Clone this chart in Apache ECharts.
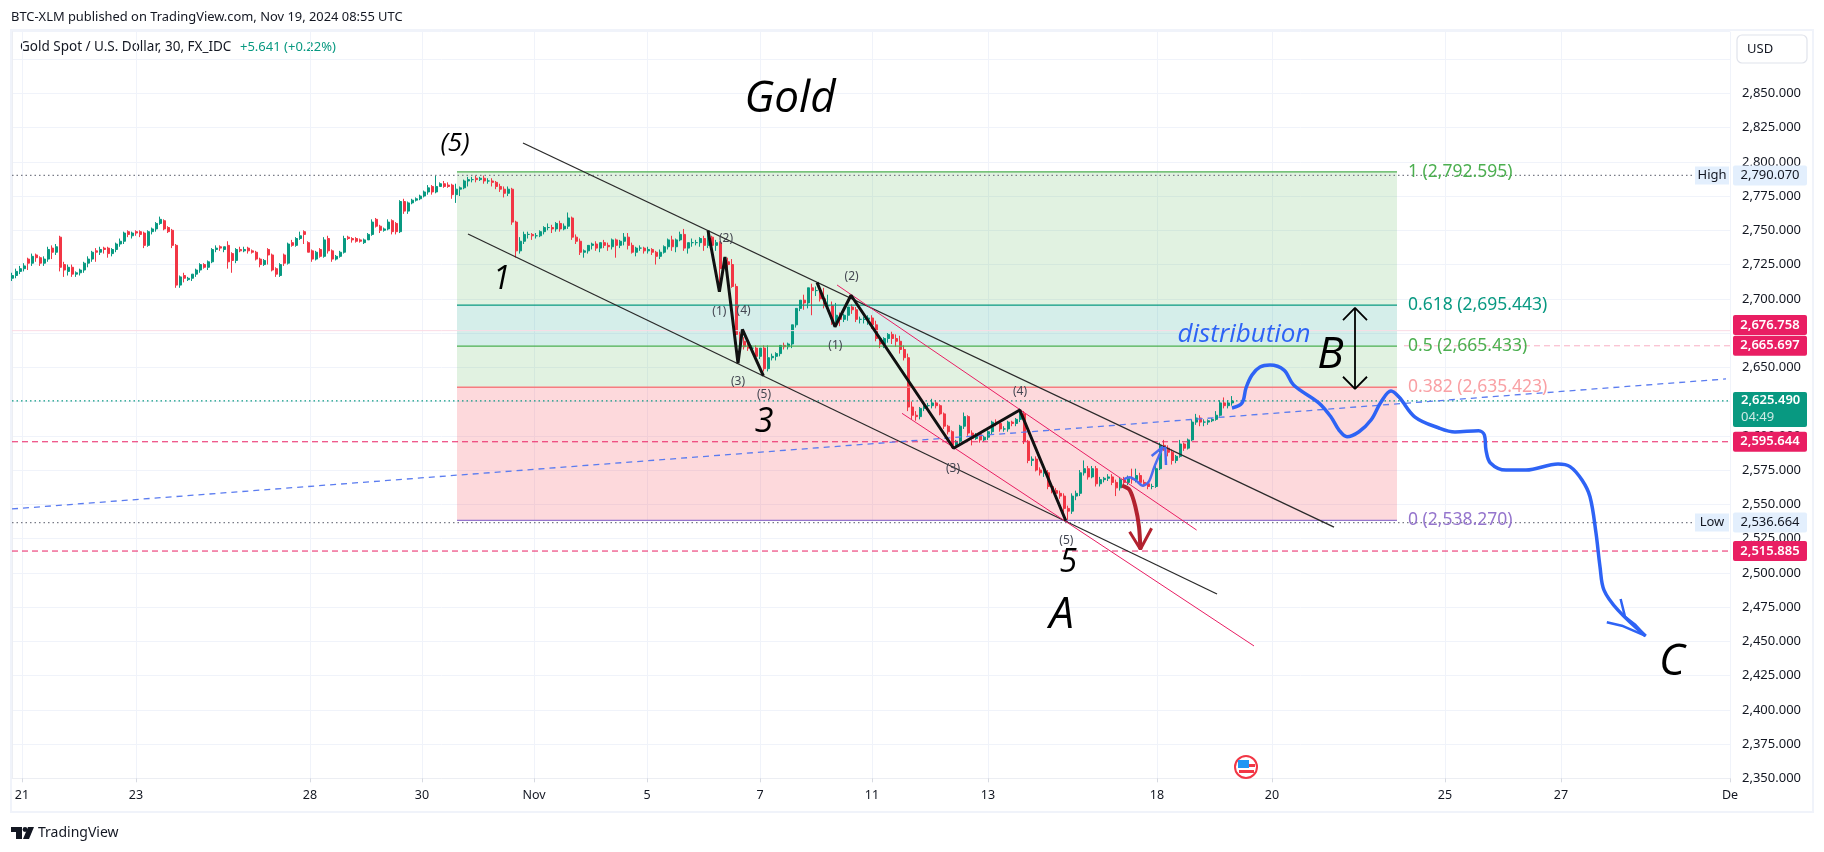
<!DOCTYPE html>
<html>
<head>
<meta charset="utf-8">
<style>
  html, body { margin: 0; background: #fff; }
  #chart { width: 1824px; height: 852px; }
</style>
<script src="https://cdn.jsdelivr.net/npm/echarts@6/dist/echarts.min.js"></script>
</head>
<body>
<div id="chart"></div>
<script>
const font = '"Noto Sans", sans-serif';

// x axis: slot number of the thinned bars, one slot holds about 3 bars of 30 min
const slotMax = 429.5;
const tickSlots = [2.5, 31, 74.5, 102.5, 130.5, 158.75, 187, 215, 244, 286.25, 315, 358.25, 387.25, 429.5];
const tickLabels = ['21', '23', '28', '30', 'Nov', '5', '7', '11', '13', '18', '20', '25', '27', 'De'];

// price candles, one entry per slot
const opens = [
  2715,2717,2720,2722,2729,2726,2732,2730,2726,2729, 2737,2734,2745,2725,2720,2723,2718,2719,2721,2726,
  2729,2735,2734,2737,2737,2733,2736,2740,2742,2749, 2746,2749,2749,2748,2739,2749,2751,2755,2757,2752,
  2750,2739,2710,2717,2714,2715,2718,2721,2725,2723, 2727,2736,2738,2736,2739,2733,2728,
  2736,2735,2737,2735,2734,2729,2725,2736,2732,2722, 2717,2732,2726,2741,2739,2744,2749,2741,2735,2729,
  2736,2731,2744,2735,2729,2731,2734,2745,2744,2744, 2743,2741,2743,2747,2758,2753,2750,2751,2757,2755,
  2749,2771,2764,2770,2772,2773,2775,2778,2782,2778, 2782,2784,2783,2783,2776,2780,2781,
  2786,2787,2788,2787,2788,2786,2786,2785,2782,2780, 2777,2780,2756,2735,2742,2747,2747,2746,2746,2749,
  2752,2752,2751,2755,2751,2753,2759,2745,2742,2734, 2735,2739,2740,2737,2741,2739,2738,2743,2739,2742,
  2745,2739,2734,2737,2737,2735,2736,2734,2731,2734, 2738,2743,2738,2743,2747,2737,2741,2741,2741,2744,2739,
  2745,2739,2741,2722,2727,2725,2709,2674,2669,2665, 2664,2664,2658,2664,2649,2657,2658,2660,2666,2665,
  2667,2681,2693,2699,2697,2708,2706,2706,2700,2695, 2695,2683,2688,2685,2688,2694,2692,2685,2685,2685,
  2686,2681,2671,2667,2671,2674,2671,2669,2663,2657, 2621,2615,
  2614,2620,2622,2622,2624,2622,2616,2607,2603,2593, 2596,2607,2614,2602,2598,2601,2597,2599,2603,2610,
  2609,2605,2605,2610,2609,2612,2616,2596,2582,2583, 2575,2573,2573,2563,2560,2558,2556,2547,2545,2556,
  2558,2573,2576,2570,2576,2565,2568,2569,2570,2566,
  2562,2568,2566,2569,2568,2571,2566,2565,2563,2563, 2576,2593,2591,2588,2582,2585,2594,2591,2597,2610,
  2613,2610,2610,2611,2612,2615,2624,2622,2624
];
const closes = [
  2717,2720,2722,2724,2726,2731,2730,2726,2729,2736, 2734,2738,2723,2721,2723,2718,2719,2721,2726,2729,
  2734,2734,2736,2736,2733,2736,2740,2742,2748,2747, 2748,2748,2747,2739,2749,2751,2755,2758,2751,2749,
  2739,2710,2716,2715,2715,2718,2721,2725,2723,2727, 2736,2737,2737,2738,2727,2728,2736,
  2735,2736,2735,2734,2729,2725,2728,2732,2721,2718, 2725,2726,2740,2739,2744,2746,2747,2734,2729,2734,
  2731,2743,2735,2729,2731,2734,2744,2744,2743,2742, 2742,2743,2747,2756,2753,2750,2751,2756,2749,2749,
  2771,2764,2770,2772,2773,2775,2778,2781,2778,2782, 2784,2782,2782,2776,2780,2781,2786,
  2787,2787,2787,2788,2786,2786,2785,2782,2780,2777, 2780,2756,2735,2742,2747,2747,2746,2746,2749,2752,
  2752,2751,2755,2751,2753,2759,2745,2742,2734,2735, 2739,2740,2737,2741,2739,2738,2743,2739,2742,2745,
  2739,2734,2737,2737,2735,2736,2734,2731,2734,2738, 2743,2738,2743,2747,2737,2741,2741,2741,2744,2739,2745,
  2739,2741,2722,2727,2725,2709,2674,2669,2665,2664, 2664,2658,2664,2649,2657,2658,2660,2666,2665,2667,
  2681,2693,2699,2697,2708,2706,2706,2700,2695,2695, 2683,2688,2685,2688,2694,2692,2685,2685,2685,2686,
  2681,2671,2667,2671,2674,2671,2669,2663,2657,2621, 2615,2614,
  2620,2622,2622,2624,2622,2616,2607,2603,2593,2596, 2607,2614,2602,2598,2601,2597,2599,2603,2610,2609,
  2605,2605,2610,2609,2612,2616,2596,2582,2583,2575, 2573,2573,2563,2560,2558,2556,2547,2545,2556,2558,
  2573,2576,2570,2576,2565,2568,2569,2570,2566,2562,
  2568,2566,2569,2568,2571,2566,2565,2563,2563,2576, 2593,2591,2588,2582,2585,2594,2591,2597,2610,2613,
  2610,2610,2611,2612,2615,2624,2622,2624,2625.49
];
const lows = [
  2713,2715,2718,2720,2721,2724,2727,2724,2724,2727, 2729,2732,2720,2716,2717,2716,2716,2717,2719,2723,
  2727,2727,2732,2733,2730,2731,2734,2738,2740,2745, 2744,2746,2745,2737,2738,2747,2749,2754,2750,2748,
  2737,2708,2708,2712,2713,2713,2716,2719,2722,2721, 2726,2734,2735,2734,2722,2719,2726,
  2734,2734,2733,2733,2728,2723,2724,2725,2720,2716, 2716,2724,2725,2738,2738,2743,2740,2734,2727,2728,
  2730,2730,2733,2727,2728,2730,2733,2743,2741,2741, 2741,2740,2743,2746,2752,2748,2749,2750,2747,2747,
  2748,2762,2762,2769,2771,2772,2774,2776,2776,2777, 2782,2781,2781,2773,2770,2775,2780,
  2782,2785,2785,2786,2784,2784,2782,2780,2778,2774, 2775,2754,2730,2733,2740,2744,2743,2744,2745,2747,
  2750,2748,2749,2749,2750,2751,2743,2740,2732,2730, 2733,2736,2735,2734,2737,2735,2736,2730,2737,2739,
  2736,2733,2731,2735,2733,2733,2732,2725,2729,2733, 2736,2735,2734,2742,2735,2733,2738,2739,2738,2735,2737,
  2736,2735,2705,2720,2722,2708,2672,2667,2663,2662, 2662,2656,2656,2647,2647,2655,2655,2658,2663,2663,
  2664,2679,2691,2692,2693,2688,2702,2698,2693,2691, 2681,2682,2680,2683,2684,2689,2683,2682,2682,2681,
  2678,2669,2664,2664,2668,2667,2665,2660,2655,2618, 2612,2611,
  2612,2618,2620,2620,2620,2615,2605,2601,2591,2591, 2594,2605,2600,2593,2597,2595,2596,2597,2601,2607,
  2603,2603,2603,2607,2607,2610,2594,2580,2578,2574, 2571,2570,2561,2558,2556,2554,2544,2537,2543,2553,
  2556,2571,2568,2569,2563,2563,2566,2567,2564,2556,
  2560,2564,2564,2565,2566,2564,2563,2561,2561,2562, 2575,2589,2585,2579,2580,2584,2589,2590,2596,2608,
  2607,2607,2608,2610,2611,2614,2620,2620,2622
];
const highs = [
  2719,2722,2724,2726,2730,2733,2733,2731,2731,2738, 2739,2740,2746,2727,2725,2725,2720,2722,2727,2731,
  2735,2737,2738,2738,2738,2737,2741,2744,2749,2750, 2749,2750,2750,2749,2750,2752,2756,2760,2758,2753,
  2751,2740,2717,2719,2716,2718,2722,2726,2726,2728, 2737,2739,2739,2738,2742,2734,2737,
  2738,2738,2738,2736,2735,2730,2729,2737,2733,2723, 2726,2733,2741,2743,2745,2749,2750,2742,2736,2735,
  2737,2745,2746,2736,2732,2735,2746,2746,2745,2745, 2744,2744,2748,2758,2759,2754,2752,2758,2758,2756,
  2772,2773,2771,2773,2774,2776,2779,2783,2783,2790, 2785,2786,2785,2784,2784,2782,2787,
  2789,2789,2790,2789,2790,2788,2788,2786,2784,2782, 2782,2781,2757,2745,2749,2749,2748,2748,2750,2753,
  2755,2754,2756,2757,2755,2763,2760,2747,2744,2736, 2737,2741,2742,2741,2743,2741,2744,2744,2743,2748,
  2748,2741,2738,2739,2738,2738,2737,2735,2736,2739, 2744,2746,2744,2749,2751,2741,2744,2743,2745,2746,2750,
  2746,2743,2742,2730,2730,2729,2711,2676,2672,2668, 2666,2666,2661,2666,2666,2660,2661,2665,2668,2668,
  2669,2683,2696,2703,2701,2711,2709,2708,2708,2703, 2698,2697,2690,2689,2690,2696,2694,2687,2687,2688,
  2688,2684,2673,2672,2675,2676,2674,2673,2666,2660, 2625,2618,
  2621,2624,2624,2627,2626,2623,2617,2608,2604,2597, 2608,2617,2615,2604,2602,2602,2600,2604,2611,2612,
  2610,2607,2611,2611,2613,2620,2618,2597,2585,2585, 2577,2575,2575,2564,2562,2560,2558,2549,2558,2560,
  2575,2582,2578,2578,2578,2570,2570,2572,2572,2568,
  2570,2570,2571,2576,2576,2573,2568,2566,2565,2578, 2595,2597,2593,2590,2586,2597,2595,2598,2612,2616,
  2615,2612,2612,2613,2618,2626,2628,2626,2629
];

// fibonacci tool
const fibStart = 111.25, fibEnd = 346.25, fibLabelSlot = 349;
const fibLevels = [2792.595, 2695.443, 2665.433, 2635.423, 2538.27];
const fibNames = ['1', '0.618', '0.5', '0.382', '0'];
const fibLineColors = ['#4caf50', '#089981', '#4caf50', '#f77c80', '#9575cd'];
const fibTextColors = ['#4caf50', '#089981', '#4caf50', '#f9a0a4', '#9575cd'];
const fibFills = ['rgba(76,175,80,0.17)', 'rgba(8,153,129,0.17)', 'rgba(76,175,80,0.17)', 'rgba(242,54,69,0.19)'];

// price levels
const highPrice = 2790.07, lowPrice = 2536.664, lastPrice = 2625.49;
const pinkLevels = [2595.644, 2515.885];
const upperPink = 2665.697, faintPink = 2676.758;

// drawings, [slot, price]
const trendLine = [[0, 2546.6], [428.5, 2641.5]];
const channelUpper = [[127.75, 2813.7], [330.5, 2533.4]];
const channelLower = [[114, 2747.3], [301.25, 2484.5]];
const pinkUpper = [[206.25, 2710.1], [296.15, 2531.2]];
const pinkLower = [[222.5, 2616.4], [310.5, 2446.6]];
const zigzagOne = [[174, 2749.9], [176.85, 2705.2], [178.25, 2730.5], [181.5, 2652.9], [182.6, 2677.7], [187.85, 2643.7]];
const zigzagTwo = [[201.25, 2712], [205.75, 2679.6], [209.75, 2702.6], [235.4, 2590.9], [251.95, 2618.8], [263.45, 2538]];
const forecast = [
  [305, 2620.3], [307.5, 2623.9], [308.5, 2634.9], [310, 2644.4], [312, 2650.2], [314.5, 2651.7], [318, 2648],
  [320.4, 2637.1], [326.75, 2623.9], [329.75, 2613.7], [331.75, 2604.2], [333.75, 2599.3], [336.75, 2603],
  [339.75, 2611.5], [342.25, 2624.7], [344.75, 2632.7], [346.75, 2628.3], [350.75, 2613.7], [356.75, 2605.7],
  [360.75, 2602.8], [366.65, 2603.7], [368.1, 2600.6], [368.5, 2589.6], [369.6, 2580.2], [373.5, 2575],
  [378.5, 2575], [386.5, 2579.4], [389.5, 2577.5], [392.5, 2567.7], [394.5, 2555.5], [396, 2529], [397, 2504.5],
  [398, 2487.4], [401.5, 2472.8], [408.4, 2453.9]
];
const forecastBarbA = [[402.15, 2480.9], [403.25, 2468], [405.9, 2461.9], [408.4, 2453.9]];
const forecastBarbB = [[398.7, 2463.9], [402.45, 2461.4], [408.4, 2453.9]];
const bounce = [[278, 2568.3], [279.4, 2569.7], [280.85, 2567.7], [282.75, 2563.6], [284.2, 2566.5], [285.6, 2577.5], [287.75, 2592]];
const bounceBarbA = [[284.9, 2585.3], [287.75, 2592]];
const bounceBarbB = [[288.5, 2578.7], [288.3, 2592]];
const drop = [[277.5, 2563.6], [279.4, 2560.4], [280.85, 2548.2], [281.75, 2533.6], [282.1, 2517.2]];
const dropBarbs = [[279.4, 2530], [282.1, 2517.2], [284.9, 2532.5]];
const rangeStem = [[335.75, 2693.3], [335.75, 2634.2]];
const rangeTop = [[332.75, 2684.5], [335.75, 2693.3], [338.75, 2684.5]];
const rangeBottom = [[332.75, 2643.1], [335.75, 2634.2], [338.75, 2643.1]];

const waveTexts = ['(2)', '(2)', '(1)', '(4)', '(3)', '(5)', '(1)', '(4)', '(3)', '(5)'];
const wavePoints = [[178.5, 2743.7], [209.9, 2715.9], [176.85, 2690.4], [182.9, 2691.1], [181.5, 2639.3],
  [188, 2629.8], [205.85, 2665.6], [252, 2632], [235.25, 2575.8], [263.6, 2523.2]];
const handTexts = ['Gold', '(5)', '1', '3', '5', 'A', 'B', 'C', 'distribution'];
const handPoints = [[194.5, 2845.2], [110.75, 2813], [122.4, 2714], [188, 2609.9], [264.1, 2507],
  [262.4, 2469.2], [329.6, 2659], [415, 2434.2], [308, 2674]];
const handSizes = [44, 26, 32, 34, 32, 44, 44, 44, 26];

const money = v => v.toLocaleString('en-US', { minimumFractionDigits: 3, maximumFractionDigits: 3 });

const path = (data, color, width, extra) => Object.assign({
  type: 'line', data: data, symbol: 'none', silent: true, z: 5,
  lineStyle: { color: color, width: width }
}, extra);
const level = (price, from, to, color, type, width) => path([[from, price], [to, price]], color, width || 1, {
  lineStyle: { color: color, width: width || 1, type: type }, z: 4
});
// scatter series only used to hang text on the scales
const textLayer = (data, z) => ({ type: 'scatter', symbolSize: 0, z: z, silent: true, itemStyle: { opacity: 1 }, data: data });

const candles = closes.map((c, i) => [i, opens[i], c, lows[i], highs[i]]);

// price tag sitting on the right axis
const tag = (price, text, bg, color, offset, weight) => ({
  value: [slotMax, price],
  label: {
    show: true, position: 'right', distance: 40, align: 'center', formatter: text, width: 74, height: 20,
    lineHeight: 20, backgroundColor: bg, color: color, borderRadius: 2, offset: offset || [0, 0],
    fontFamily: font, fontSize: 13, fontWeight: weight || 400
  }
});
const sideTag = (price, text) => ({
  value: [slotMax, price],
  label: {
    show: true, position: 'left', distance: 1, align: 'center', formatter: text, width: 34, height: 18, lineHeight: 18,
    backgroundColor: '#e3effd', color: '#131722', fontFamily: font, fontSize: 13, offset: [-17, 0]
  }
});

const series = [
  {
    type: 'candlestick', data: candles, encode: { x: 0, y: [1, 2, 3, 4] }, barWidth: 2.5, z: 2, silent: true,
    itemStyle: { color: '#089981', color0: '#f23645', borderColor: '#089981', borderColor0: '#f23645', borderWidth: 1 }
  },
  {
    type: 'line', data: [], z: 3, silent: true,
    markArea: {
      silent: true,
      data: fibFills.map((fill, i) => [
        { coord: [fibStart, fibLevels[i]], itemStyle: { color: fill } },
        { coord: [fibEnd, fibLevels[i + 1]] }
      ])
    }
  },
  ...fibLevels.map((p, i) => level(p, fibStart, fibEnd, fibLineColors[i], 'solid', 1.3)),
  level(highPrice, 0, 421, '#787b86', [1.5, 3], 1.2),
  level(lowPrice, 0, 421.5, '#787b86', [1.5, 3], 1.2),
  level(lastPrice, 0, slotMax, '#089981', [1.5, 3], 1.2),
  ...pinkLevels.map(p => level(p, 0, slotMax, '#e91e63', [6, 4], 1)),
  level(upperPink, 348, slotMax, '#f9aec4', [6, 4], 1),
  level(faintPink, 0, slotMax, '#fbdbe5', 'solid', 1),
  path(trendLine, '#5b7cf0', 1.3, { lineStyle: { color: '#5b7cf0', width: 1.3, type: [6, 5] } }),
  path(channelUpper, '#2a2a2a', 1.3),
  path(channelLower, '#2a2a2a', 1.3),
  path(pinkUpper, '#e91e63', 1),
  path(pinkLower, '#e91e63', 1),
  path(zigzagOne, '#111', 3),
  path(zigzagTwo, '#111', 3),
  path(forecast, '#2e63f5', 3.5, { smooth: 0.35, z: 6 }),
  path(forecastBarbA, '#2e63f5', 2.5, { z: 6 }),
  path(forecastBarbB, '#2e63f5', 2.5, { z: 6 }),
  path(bounce, '#4a6cf0', 2.5, { smooth: 0.3, z: 6 }),
  path(bounceBarbA, '#4a6cf0', 2.5, { z: 6 }),
  path(bounceBarbB, '#4a6cf0', 2.5, { z: 6 }),
  path(drop, '#b2222f', 4, { smooth: 0.3, z: 6 }),
  path(dropBarbs, '#b2222f', 3, { z: 6 }),
  path(rangeStem, '#000', 1.8, { z: 6 }),
  path(rangeTop, '#000', 1.8, { z: 6 }),
  path(rangeBottom, '#000', 1.8, { z: 6 }),
  textLayer(fibLevels.map((p, i) => ({
    value: [fibLabelSlot, p],
    label: {
      show: true, position: 'right', distance: 0, fontFamily: font, fontSize: 17.5, color: fibTextColors[i],
      formatter: fibNames[i] + ' (' + money(p) + ')'
    }
  })), 7),
  textLayer(wavePoints.map((pt, i) => ({
    value: pt,
    label: { show: true, position: 'inside', fontFamily: font, fontSize: 12, color: '#434651', formatter: waveTexts[i] }
  })), 7),
  textLayer(handPoints.map((pt, i) => ({
    value: pt,
    label: {
      show: true, position: 'inside', fontFamily: '"Open Sans", sans-serif', fontStyle: 'italic', fontWeight: 500,
      fontSize: handSizes[i], color: handTexts[i] === 'distribution' ? '#2e63f5' : '#000', formatter: handTexts[i]
    }
  })), 7),
  textLayer([
    tag(faintPink, money(faintPink), '#e91e63', '#fff', [0, -5.7], 600),
    tag(upperPink, money(upperPink), '#e91e63', '#fff', null, 600),
    tag(pinkLevels[0], money(pinkLevels[0]), '#e91e63', '#fff', null, 600),
    tag(pinkLevels[1], money(pinkLevels[1]), '#e91e63', '#fff', null, 600),
    tag(highPrice, money(highPrice), '#e3effd', '#131722'),
    tag(lowPrice, money(lowPrice), '#e3effd', '#131722'),
    sideTag(highPrice, 'High'),
    sideTag(lowPrice, 'Low'),
    {
      value: [slotMax, lastPrice],
      label: {
        show: true, position: 'right', distance: 40, align: 'center', width: 74, height: 35, lineHeight: 17,
        backgroundColor: '#089981', borderRadius: 2, offset: [0, 8.5], fontFamily: font,
        formatter: '{a|' + money(lastPrice) + '}\n{b|04:49}',
        rich: {
          a: { color: '#fff', fontSize: 13, fontWeight: 600, fontFamily: font, lineHeight: 17, width: 64, align: 'left', padding: [0, 0, 0, 8] },
          b: { color: '#cdeae4', fontSize: 13, fontFamily: font, lineHeight: 17, width: 64, align: 'left', padding: [0, 0, 0, 8] }
        }
      }
    }
  ], 10)
];

const chart = echarts.init(document.getElementById('chart'), null, { renderer: 'canvas' });
chart.setOption({
  animation: false,
  backgroundColor: '#fff',
  grid: { left: 12, right: 94, top: 31.65, bottom: 73.7 },
  xAxis: {
    type: 'value', min: 0, max: slotMax, scale: true,
    axisLine: { show: true, lineStyle: { color: '#eceef3' } },
    axisTick: { show: true, length: 4, customValues: tickSlots, lineStyle: { color: '#d6d9e0' } },
    splitLine: { show: true, lineStyle: { color: '#f0f3fa' } },
    axisLabel: {
      customValues: tickSlots, margin: 11, color: '#131722', fontFamily: font, fontSize: 12.5,
      formatter: v => tickLabels[tickSlots.indexOf(v)]
    }
  },
  yAxis: {
    type: 'value', position: 'right', min: 2350, max: 2895, interval: 25,
    axisLine: { show: true, lineStyle: { color: '#eceef3' } },
    axisTick: { show: false },
    splitLine: { show: true, lineStyle: { color: '#f0f3fa' } },
    axisLabel: {
      margin: 12, color: '#131722', fontFamily: font, fontSize: 13, align: 'left',
      formatter: v => (v >= 2875 || v === 2675) ? '' : money(v)
    }
  },
  series: series,
  graphic: [
    { type: 'rect', z: 0, shape: { x: 11, y: 30, width: 1802, height: 782 }, style: { fill: 'none', stroke: '#f0f3fa', lineWidth: 2 } },
    { type: 'text', x: 11, y: 17, style: { text: 'BTC-XLM published on TradingView.com, Nov 19, 2024 08:55 UTC', fill: '#131722', font: '12.9px ' + font, verticalAlign: 'middle' } },
    { type: 'text', x: 20, y: 47, style: { text: 'Gold Spot / U.S. Dollar, 30, FX_IDC', fill: '#131722', font: '13.5px ' + font, verticalAlign: 'middle' } },
    { type: 'text', x: 240, y: 47, style: { text: '+5.641 (+0.22%)', fill: '#089981', font: '13px ' + font, verticalAlign: 'middle' } },
    { type: 'rect', shape: { x: 1737, y: 35, width: 70, height: 28, r: 5 }, style: { fill: '#fff', stroke: '#e0e3eb', lineWidth: 1.2 } },
    { type: 'text', x: 1747, y: 49, style: { text: 'USD', fill: '#131722', font: '13px ' + font, verticalAlign: 'middle' } },
    { type: 'polygon', shape: { points: [[11, 827], [22, 827], [22, 839], [16, 839], [16, 832], [11, 832]] }, style: { fill: '#131722' } },
    { type: 'circle', shape: { cx: 25, cy: 829.5, r: 2.4 }, style: { fill: '#131722' } },
    { type: 'polygon', shape: { points: [[28, 827], [34, 827], [29, 839], [23, 839]] }, style: { fill: '#131722' } },
    { type: 'text', x: 38, y: 833, style: { text: 'TradingView', fill: '#131722', font: '14px ' + font, verticalAlign: 'middle' } },
    { type: 'circle', z: 20, shape: { cx: 1246, cy: 767, r: 11 }, style: { fill: '#fff', stroke: '#f23645', lineWidth: 2 } },
    { type: 'rect', z: 21, shape: { x: 1238, y: 760, width: 11, height: 8 }, style: { fill: '#2196f3' } },
    { type: 'rect', z: 21, shape: { x: 1249, y: 764, width: 6, height: 3 }, style: { fill: '#f23645' } },
    { type: 'rect', z: 21, shape: { x: 1239, y: 770, width: 15, height: 3 }, style: { fill: '#f23645' } }
  ]
});
</script>
</body>
</html>
